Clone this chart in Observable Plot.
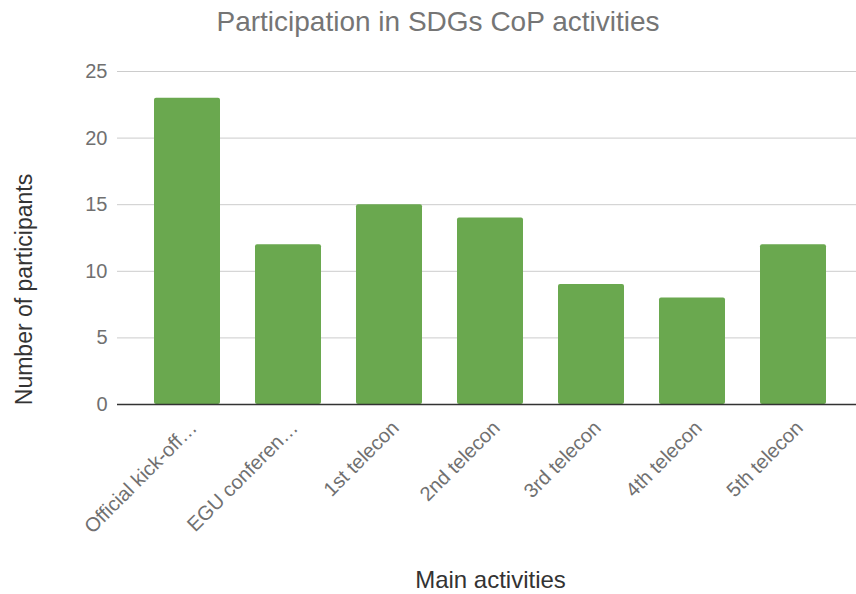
<!DOCTYPE html>
<html>
<head>
<meta charset="utf-8">
<script src="https://cdn.jsdelivr.net/npm/d3@7"></script>
<script src="https://cdn.jsdelivr.net/npm/@observablehq/plot@0.6"></script>
<style>
  html, body { margin: 0; padding: 0; background: #fff; }
  #chart svg { display: block; }
</style>
</head>
<body>
<div id="chart"></div>
<script>
const activities = ["Official kick-off…", "EGU conferen…", "1st telecon", "2nd telecon", "3rd telecon", "4th telecon", "5th telecon"];
const participants = [23, 12, 15, 14, 9, 8, 12];
const yTicks = [0, 5, 10, 15, 20, 25];
const titleText = "Participation in SDGs CoP activities";
const yLabel = "Number of participants";
const xLabel = "Main activities";

const data = activities.map((a, i) => ({activity: a, value: participants[i]}));
const font = "'Liberation Sans', Arial, Helvetica, sans-serif";

const chart = Plot.plot({
  width: 856,
  height: 594,
  marginTop: 71,
  marginBottom: 190,
  marginLeft: 117,
  marginRight: 0,
  style: {fontFamily: font, color: "#707070", background: "#fff"},
  x: {domain: activities, range: [135.4, 844], paddingInner: 0.35, paddingOuter: 0.175, label: null},
  y: {domain: [0, 25], label: null},
  marks: [
    Plot.ruleY(yTicks.filter(d => d > 0), {stroke: "#cccccc", strokeWidth: 1}),
    Plot.barY(data, {x: "activity", y: "value", fill: "#6aa84f", rx: 2}),
    Plot.ruleY([0], {stroke: "#333", strokeWidth: 1.5}),
    Plot.axisY({ticks: yTicks, tickSize: 0, tickPadding: 10, fontSize: 20, label: null}),
    Plot.axisX({tickSize: 0, tickRotate: -45, tickPadding: 14, dx: 6, dy: 6, fontSize: 20, label: null}),
    Plot.text([titleText], {text: d => d, frameAnchor: "top", lineAnchor: "middle", dx: -49, dy: -49, fontSize: 28, fill: "#757575", fontFamily: font}),
    Plot.text([yLabel], {text: d => d, frameAnchor: "left", textAnchor: "middle", lineAnchor: "middle", rotate: -90, dx: -93, dy: 51.5, fontSize: 23, fill: "#333", fontFamily: font}),
    Plot.text([xLabel], {text: d => d, frameAnchor: "bottom", lineAnchor: "middle", dx: 3.5, dy: 176, fontSize: 24, fill: "#333", fontFamily: font})
  ]
});
document.getElementById("chart").appendChild(chart);
</script>
</body>
</html>
